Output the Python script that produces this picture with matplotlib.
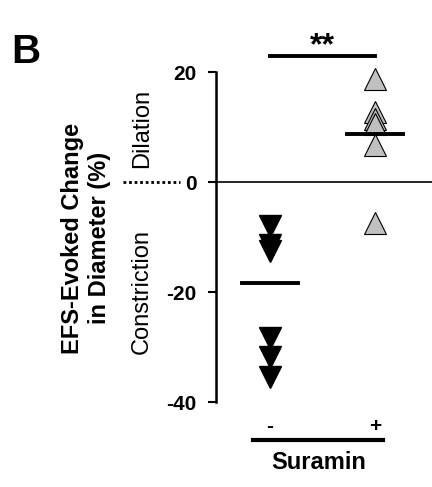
import matplotlib
matplotlib.use('Agg')
from matplotlib import pyplot as plt

plt.rcParams['font.family'] = ['Liberation Sans', 'DejaVu Sans']

# data
groups = ['-', '+']
minus_vals = [-8, -11.5, -12.5, -28.3, -31.8, -35.4]
plus_vals = [18.7, 12.7, 11.5, 10.5, 6.7, -7.5]
means = [-18.4, 8.7]
yticks = [-40, -20, 0, 20]

fig = plt.figure(figsize=(4.32, 4.87), dpi=100)
ax = fig.add_axes([216/432, 85/487, 216/432, 330/487])

# points
ax.plot([0]*len(minus_vals), minus_vals, 'v', ms=16, color='black',
        mec='black', clip_on=False, zorder=3)
ax.plot([1]*len(plus_vals), plus_vals, '^', ms=16, color='#c0c0c0',
        mec='black', mew=0.8, clip_on=False, zorder=3)

# mean bars
for i, m in enumerate(means):
    ax.plot([i - 0.265, i + 0.265], [m, m], color='black', lw=2.8, zorder=4)

# zero line
ax.plot([-0.58, 1.55], [0, 0], color='black', lw=1.2, clip_on=False, zorder=2)
# dotted line left of 0
ax.plot([-1.4, -0.86], [0, 0], color='black', lw=2, ls=(0, (1, 1)),
        clip_on=False)

# significance bar
ax.plot([0, 1], [23, 23], color='black', lw=2.8, clip_on=False)
ax.text(0.5, 23.2, '**', ha='center', va='baseline', fontsize=23,
        fontweight='bold')

# group labels and underline
for i, g in enumerate(groups):
    ax.text(i, -44.4, g, ha='center', va='center', fontsize=15,
            fontweight='bold')
ax.plot([-0.16, 1.08], [-46.9, -46.9], color='black', lw=3, clip_on=False)
ax.text(0.46, -51, 'Suramin', ha='center', va='center', fontsize=17,
        fontweight='bold')

ax.set_xlim(-0.514, 1.543)
ax.set_ylim(-40, 20)
ax.set_yticks(yticks)
ax.set_yticklabels([str(t) for t in yticks], fontsize=15, fontweight='bold')
ax.set_xticks([])
ax.tick_params(axis='y', length=6, width=1.5, pad=8)
for s in ['top', 'right', 'bottom']:
    ax.spines[s].set_visible(False)
ax.spines['left'].set_linewidth(1.8)

# y label and side texts
fig.text(86/432, 1 - 238/487, 'EFS-Evoked Change\nin Diameter (%)',
         rotation=90, ha='center', va='center', fontsize=17,
         fontweight='bold', linespacing=1.25)
fig.text(142/432, 1 - 128/487, 'Dilation', rotation=90, ha='center',
         va='center', fontsize=17)
fig.text(142/432, 1 - 291/487, 'Constriction', rotation=90, ha='center',
         va='center', fontsize=17)

fig.text(11/432, 1 - 52/487, 'B', ha='left', va='center', fontsize=29,
         fontweight='bold')

fig.savefig('out.png', dpi=100)
